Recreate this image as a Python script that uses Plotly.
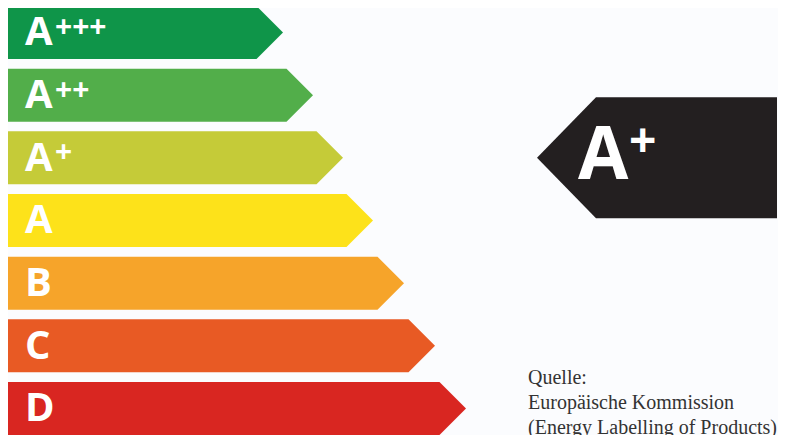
import plotly.graph_objects as go

# ---- data ----
classes = ["A+++", "A++", "A+", "A", "B", "C", "D"]
class_letters = ["A", "A", "A", "A", "B", "C", "D"]
class_plus = ["+++", "++", "+", "", "", "", ""]
bar_ends = [283, 313, 343, 373, 404, 435, 466]
bar_colors = ["#0F9549", "#52AE4A", "#C5CB38", "#FDE21A", "#F6A42A", "#E85A24", "#D92621"]
rating = "A+"
rating_letter = "A"
rating_plus = "+"
source_lines = ["Quelle:", "Europäische Kommission", "(Energy Labelling of Products)"]

# ---- layout constants (pixels) ----
W, H = 786, 435
OFF = 8            # page body margin
PITCH = 62.67
ROW0 = 32.5
HALF = 26.5 / PITCH
HEAD = 26.5
LEFT = 5

rating_index = classes.index(rating)
BLACK_TIP, BLACK_BODY, BLACK_RIGHT = 537, 596, 777
BLACK_HALF = 60.5 / PITCH

fig = go.Figure()

for i, (end, col) in enumerate(zip(bar_ends, bar_colors)):
    xs = [LEFT, end - HEAD, end, end - HEAD, LEFT, LEFT]
    ys = [i - HALF, i - HALF, i, i + HALF, i + HALF, i - HALF]
    fig.add_trace(go.Scatter(x=xs, y=ys, fill="toself", fillcolor=col, mode="lines",
                             line=dict(width=0, color=col), hoverinfo="skip", showlegend=False))
    fig.add_annotation(x=23, y=i - 0.045, xref="x", yref="y", text=class_letters[i],
                       showarrow=False, xanchor="left", yanchor="middle",
                       font=dict(family="Open Sans", size=40, color="white", weight=700))
    if class_plus[i]:
        fig.add_annotation(x=53, y=i - 0.11, xref="x", yref="y", text=class_plus[i],
                           showarrow=False, xanchor="left", yanchor="middle",
                           font=dict(family="Open Sans", size=30, color="white", weight=700))

r = rating_index
xs = [BLACK_TIP, BLACK_BODY, BLACK_RIGHT, BLACK_RIGHT, BLACK_BODY, BLACK_TIP]
ys = [r, r - BLACK_HALF, r - BLACK_HALF, r + BLACK_HALF, r + BLACK_HALF, r]
fig.add_trace(go.Scatter(x=xs, y=ys, fill="toself", fillcolor="#231F20", mode="lines",
                         line=dict(width=0, color="#231F20"), hoverinfo="skip", showlegend=False))
fig.add_annotation(x=576, y=r - 0.12, xref="x", yref="y", text=rating_letter,
                   showarrow=False, xanchor="left", yanchor="middle",
                   font=dict(family="Open Sans", size=73, color="white", weight=700))
fig.add_annotation(x=627, y=r - 0.31, xref="x", yref="y", text=rating_plus,
                   showarrow=False, xanchor="left", yanchor="middle",
                   font=dict(family="Open Sans", size=48, color="white", weight=700))

for k, line in enumerate(source_lines):
    ypx = 377 + k * 25
    fig.add_annotation(x=(526 - OFF) / W, y=1 - (ypx - OFF) / H, xref="paper", yref="paper",
                       text=line, showarrow=False, xanchor="left", yanchor="middle",
                       font=dict(family="Liberation Serif", size=20, color="#333333"))

fig.update_layout(
    width=W, height=H, margin=dict(l=0, r=0, t=0, b=0),
    paper_bgcolor="#FBFCFE", plot_bgcolor="#FBFCFE",
    xaxis=dict(range=[OFF, W + OFF], visible=False, fixedrange=True),
    yaxis=dict(range=[(H + OFF - ROW0) / PITCH, (OFF - ROW0) / PITCH], visible=False,
               fixedrange=True),
)

fig.write_html("out.html")
